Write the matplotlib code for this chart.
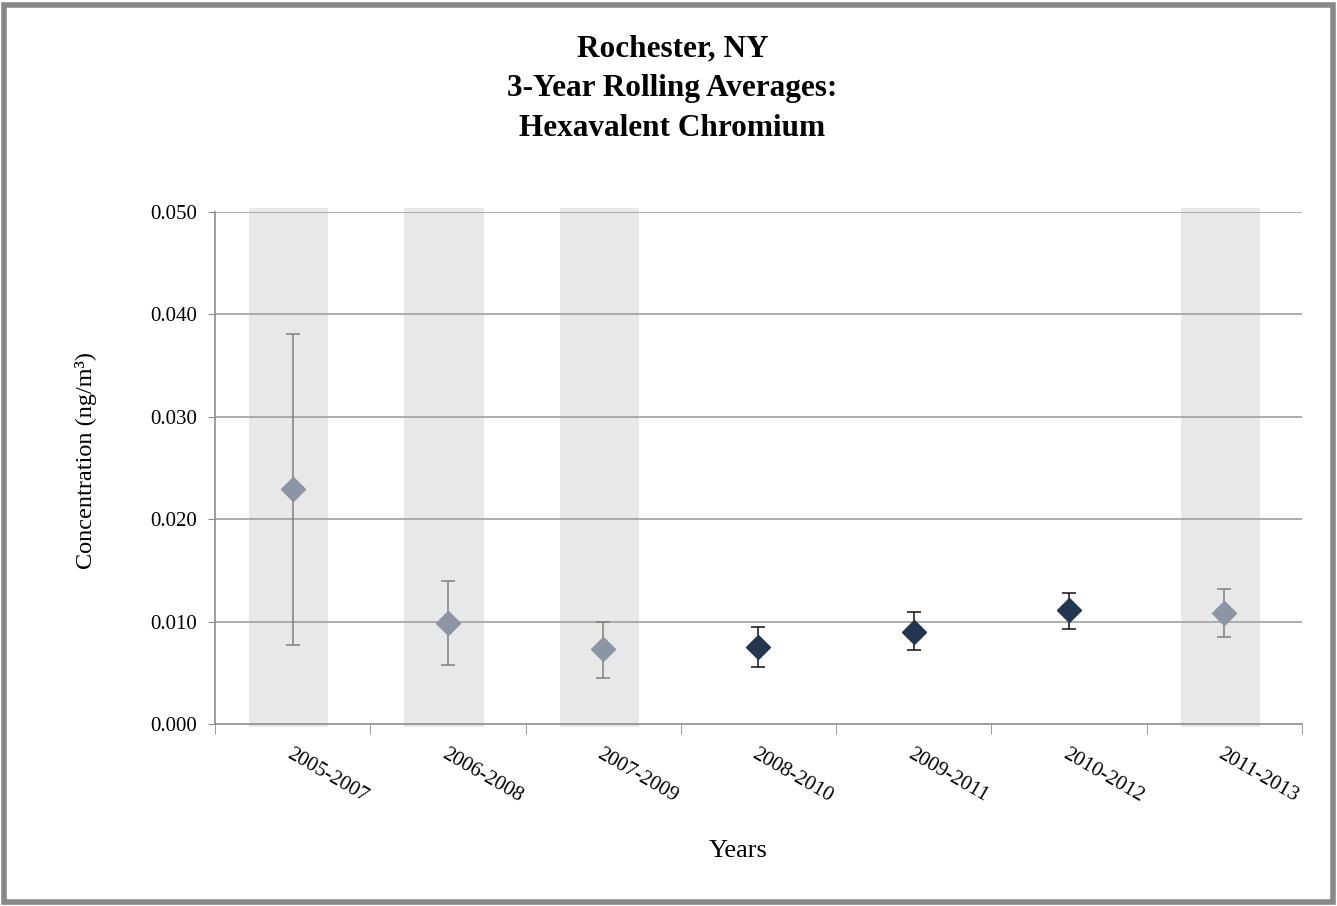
import numpy as np
import matplotlib.pyplot as plt
from matplotlib.patches import Rectangle

# data
periods = ['2005-2007', '2006-2008', '2007-2009', '2008-2010',
           '2009-2011', '2010-2012', '2011-2013']
means = [0.0229, 0.0099, 0.0073, 0.0075, 0.0090, 0.0111, 0.0108]
lower = [0.0077, 0.0058, 0.0045, 0.0056, 0.0072, 0.0093, 0.0085]
upper = [0.0381, 0.0140, 0.0100, 0.0095, 0.0109, 0.0128, 0.0132]
incomplete = [True, True, True, False, False, False, True]

plt.rcParams['font.family'] = 'Liberation Serif'

fig = plt.figure(figsize=(13.37, 9.06), dpi=100)
ax = fig.add_axes([0.1608, 0.2009, 0.8130, 0.5651])

x = np.arange(len(periods))
means = np.array(means)
err = np.array([means - np.array(lower), np.array(upper) - means])

# shaded columns for incomplete periods
for i, flag in enumerate(incomplete):
    if flag:
        ax.bar(x[i] - 0.025, 0.0507, bottom=-0.0003, width=0.51, color='#e8e8e8',
               zorder=1, clip_on=False)

# grid
for v in [0.01, 0.02, 0.03, 0.04, 0.05]:
    ax.axhline(v, color='#a0a0a0', lw=1.2, zorder=2)

for i in range(len(periods)):
    if incomplete[i]:
        mc, ec = '#8c95a4', '#7f7f7f'
    else:
        mc, ec = '#233651', '#111111'
    ax.errorbar(x[i], means[i], yerr=err[:, i:i+1], fmt='D', color=mc,
                ecolor=ec, elinewidth=1.1, capsize=5, capthick=1.1,
                markersize=12, markeredgecolor=mc, zorder=4)

ax.set_xlim(-0.5, 6.5)
ax.set_ylim(0, 0.05)
ax.set_yticks([0, 0.01, 0.02, 0.03, 0.04, 0.05])
ax.set_yticklabels(['%.3f' % v for v in ax.get_yticks()], fontsize=15)
ax.set_xticks(x)
ax.set_xticklabels(periods, fontsize=15, rotation=-30, ha='left',
                   va='top', rotation_mode='anchor')
ax.set_xticks(np.arange(-0.5, 7, 1), minor=True)
ax.tick_params(axis='x', which='major', length=0, pad=15)
ax.tick_params(axis='x', which='minor', length=7, color='#8c8c8c', direction='out')
ax.tick_params(axis='y', length=5, color='#8c8c8c', pad=8)

for s in ['top', 'right']:
    ax.spines[s].set_visible(False)
for s in ['left', 'bottom']:
    ax.spines[s].set_color('#8c8c8c')
    ax.spines[s].set_linewidth(1.2)

fig.text(0.503, 0.902, 'Rochester, NY\n3-Year Rolling Averages:\nHexavalent Chromium',
         ha='center', va='center', fontsize=22.5, fontweight='bold',
         linespacing=1.48)
fig.text(0.064, 0.492, 'Concentration (ng/m³)', rotation=90,
         ha='center', va='center', fontsize=17.5)
fig.text(0.552, 0.061, 'Years', ha='center', va='center', fontsize=19)

# outer frame
fig.patches.append(Rectangle((0.003, 0.004), 0.994, 0.991, transform=fig.transFigure,
                             fill=False, edgecolor='#888888', lw=4))

fig.savefig('out.png', dpi=100)
